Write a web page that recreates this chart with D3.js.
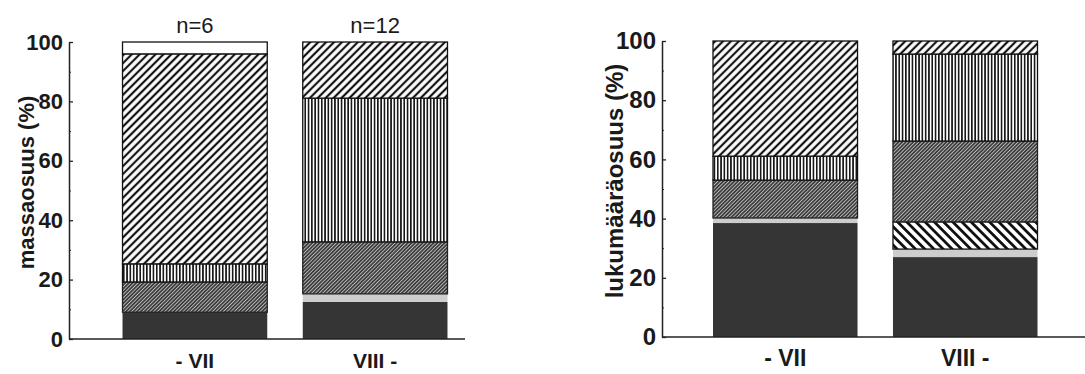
<!DOCTYPE html>
<html>
<head>
<meta charset="utf-8">
<script src="https://cdn.jsdelivr.net/npm/d3@7"></script>
<style>
  html, body { margin: 0; padding: 0; background: #fff; }
  svg { display: block; font-family: "Liberation Sans", Arial, sans-serif; }
</style>
</head>
<body>
<svg id="chart" width="1085" height="374"></svg>
<script>
// bar categories and sample sizes
const categories = ['- VII', 'VIII -'];
const sampleSizes = ['n=6', 'n=12'];

// stacked segments, bottom to top
const segmentKeys = ['dark', 'band', 'backslash', 'dense', 'vertical', 'diagonal', 'blank'];

// share of mass (%), one row per category
const massShare = [
  [9, 0, 0, 10.2, 6.1, 70.7, 4],
  [12.5, 2.7, 0, 17.5, 48.4, 18.9, 0]
];

// share of count (%), one row per category
const countShare = [
  [38.5, 1.7, 0, 12.8, 8.1, 38.9, 0],
  [27, 2.7, 9.2, 27.3, 29.4, 4.4, 0]
];

const majorTicks = [0, 20, 40, 60, 80, 100];
const minorTicks = [10, 30, 50, 70, 90];

const svg = d3.select('#chart');
const defs = svg.append('defs');

function hatch(id, bg, stroke, spacing, width, angle) {
  const p = defs.append('pattern')
    .attr('id', id)
    .attr('patternUnits', 'userSpaceOnUse')
    .attr('width', spacing)
    .attr('height', spacing)
    .attr('patternTransform', `rotate(${angle})`);
  p.append('rect').attr('width', spacing).attr('height', spacing).attr('fill', bg);
  p.append('line')
    .attr('x1', spacing / 2).attr('y1', 0)
    .attr('x2', spacing / 2).attr('y2', spacing)
    .attr('stroke', stroke)
    .attr('stroke-width', width);
}

hatch('p-diagonal', '#fff', '#111', 5.6, 2.2, 45);
hatch('p-backslash', '#fff', '#111', 6.5, 2.8, -45);
hatch('p-dense', '#3e3e3e', '#bdbdbd', 2.6, 0.9, 45);
hatch('p-vertical', '#fff', '#111', 3.3, 1.6, 0);

const segmentStyle = {
  dark: { fill: '#353535', stroke: 'none' },
  band: { fill: '#cdcdcd', stroke: 'none' },
  backslash: { fill: 'url(#p-backslash)', stroke: '#111' },
  dense: { fill: 'url(#p-dense)', stroke: '#222' },
  vertical: { fill: 'url(#p-vertical)', stroke: '#111' },
  diagonal: { fill: 'url(#p-diagonal)', stroke: '#111' },
  blank: { fill: '#fff', stroke: '#111' }
};

const panels = [
  {
    values: massShare, label: 'massaosuus (%)', counts: sampleSizes,
    axisX: 69, top: 42, bottom: 339, barRange: [113.5, 456.5], lineEnd: 465,
    labelX: 26, fontSize: 22
  },
  {
    values: countShare, label: 'lukumääräosuus (%)', counts: null,
    axisX: 662, top: 41, bottom: 337, barRange: [704, 1046.5], lineEnd: 1085,
    labelX: 615, fontSize: 24
  }
];

panels.forEach((cfg) => {
  const g = svg.append('g');
  const rows = categories.map((c, i) => {
    const row = { category: c };
    segmentKeys.forEach((k, j) => { row[k] = cfg.values[i][j]; });
    return row;
  });
  const series = d3.stack().keys(segmentKeys)(rows);

  const x = d3.scaleBand()
    .domain(categories)
    .range(cfg.barRange)
    .paddingInner(0.197)
    .paddingOuter(0.05);
  const y = d3.scaleLinear().domain([0, 100]).range([cfg.bottom, cfg.top]);

  g.selectAll('g.seg')
    .data(series)
    .join('g')
    .attr('class', 'seg')
    .attr('fill', (s) => segmentStyle[s.key].fill)
    .attr('stroke', (s) => segmentStyle[s.key].stroke)
    .attr('stroke-width', 1.3)
    .selectAll('rect')
    .data((s) => s.filter((d) => d[1] - d[0] > 0))
    .join('rect')
    .attr('x', (d) => x(d.data.category))
    .attr('y', (d) => y(d[1]))
    .attr('width', x.bandwidth())
    .attr('height', (d) => y(d[0]) - y(d[1]));

  // baseline
  g.append('line')
    .attr('x1', cfg.axisX).attr('x2', cfg.lineEnd)
    .attr('y1', y(0)).attr('y2', y(0))
    .attr('stroke', '#222').attr('stroke-width', 1.5);

  const axis = g.append('g')
    .attr('transform', `translate(${cfg.axisX},0)`)
    .call(d3.axisLeft(y).tickValues(majorTicks).tickSize(-4).tickSizeOuter(0).tickPadding(6));
  axis.select('.domain').attr('stroke', '#222').attr('stroke-width', 1.5);
  axis.selectAll('.tick line').attr('stroke', '#222').attr('stroke-width', 1.3);
  axis.selectAll('.tick text')
    .attr('font-size', cfg.fontSize)
    .attr('font-weight', 'bold')
    .attr('fill', '#1a1a1a')
    .attr('font-family', '"Liberation Sans", Arial, sans-serif');

  const minor = g.append('g')
    .attr('transform', `translate(${cfg.axisX},0)`)
    .call(d3.axisLeft(y).tickValues(minorTicks).tickSize(-2).tickSizeOuter(0).tickFormat(''));
  minor.select('.domain').remove();
  minor.selectAll('.tick line').attr('stroke', '#222');

  g.append('text')
    .attr('transform', `translate(${cfg.labelX},${(cfg.top + cfg.bottom) / 2 - 8}) rotate(-90)`)
    .attr('text-anchor', 'middle')
    .attr('dy', '0.35em')
    .attr('font-size', cfg.fontSize)
    .attr('font-weight', 'bold')
    .attr('fill', '#1a1a1a')
    .text(cfg.label);

  g.selectAll('text.cat')
    .data(categories)
    .join('text')
    .attr('class', 'cat')
    .attr('x', (d) => x(d) + x.bandwidth() / 2)
    .attr('y', cfg.bottom + 29)
    .attr('text-anchor', 'middle')
    .attr('font-size', cfg.fontSize - 1)
    .attr('font-weight', 'bold')
    .attr('fill', '#1a1a1a')
    .text((d) => d);

  if (cfg.counts) {
    g.selectAll('text.n')
      .data(categories)
      .join('text')
      .attr('class', 'n')
      .attr('x', (d) => x(d) + x.bandwidth() / 2)
      .attr('y', cfg.top - 9)
      .attr('text-anchor', 'middle')
      .attr('font-size', cfg.fontSize)
      .attr('fill', '#1a1a1a')
      .text((d, i) => cfg.counts[i]);
  }
});
</script>
</body>
</html>
